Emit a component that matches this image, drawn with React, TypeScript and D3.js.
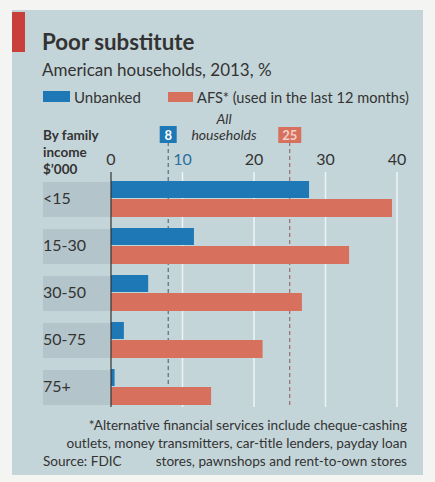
import React from "react";
import * as d3 from "d3";

const categories = ["<15", "15-30", "30-50", "50-75", "75+"];
const unbanked = [27.7, 11.6, 5.2, 1.8, 0.5];
const afs = [39.3, 33.3, 26.7, 21.2, 14.0];
const ticks = [0, 10, 20, 30, 40];
const allUnbanked = 8;
const allAfs = 25;
const footnote = [
  "*Alternative financial services include cheque-cashing",
  "outlets, money transmitters, car-title lenders, payday loan",
  "stores, pawnshops and rent-to-own stores",
];

const W = 435;
const H = 482;
const FONT = "Lato, 'Open Sans', sans-serif";
const BLUE = "#1f78b6";
const RED = "#d8705e";
const TEXT = "#333";
const PANEL = "#c4d5d9";
const BAND = "#b3c5ca";

export default function App() {
  const x = d3.scaleLinear().domain([0, 40]).range([111, 397]);
  const y = d3
    .scaleBand<string>()
    .domain(categories)
    .range([182, 405])
    .paddingInner(12 / 47)
    .paddingOuter(0);
  const bw = y.bandwidth();
  const gridTop = 172;
  const gridBottom = 407;

  return (
    <svg
      width={W}
      height={H}
      style={{ position: "absolute", left: 0, top: 0, background: "#f4f4f2" }}
      fontFamily={FONT}
    >
      <rect x={12} y={10} width={411} height={465} fill={PANEL} />
      <rect x={12} y={12} width={13} height={40} fill="#c9403a" />
      <text x={42} y={50} fontSize={22.3} fontWeight={700} fill={TEXT}>
        Poor substitute
      </text>
      <text x={42} y={76} fontSize={17} fill={TEXT}>
        American households, 2013, %
      </text>
      {/* legend */}
      <rect x={43} y={91} width={27} height={11} fill={BLUE} />
      <text x={74} y={103} fontSize={15} fill={TEXT}>
        Unbanked
      </text>
      <rect x={168} y={92} width={25} height={10} fill={RED} />
      <text x={197} y={103} fontSize={14.6} fill={TEXT}>
        AFS* (used in the last 12 months)
      </text>

      {/* row label header */}
      <text fontSize={13.5} fontWeight={700} fill={TEXT}>
        <tspan x={43} y={140}>By family</tspan>
        <tspan x={43} y={156.5}>income</tspan>
        <tspan x={43} y={174}>$’000</tspan>
      </text>

      {/* bands */}
      {categories.map((c) => (
        <rect key={c} x={43} y={y(c)!} width={x(0) - 43} height={bw} fill={BAND} />
      ))}

      {/* gridlines */}
      {ticks.slice(1).map((t) => (
        <line
          key={t}
          x1={x(t)}
          x2={x(t)}
          y1={gridTop}
          y2={gridBottom}
          stroke="#eef3f4"
          strokeWidth={1.5}
        />
      ))}
      {ticks.map((t) => (
        <text
          key={t}
          x={x(t)}
          y={165}
          fontSize={16}
          textAnchor="middle"
          fill={t === 10 ? "#2a6f9e" : TEXT}
        >
          {t}
        </text>
      ))}

      {/* all households markers */}
      <line
        x1={x(allUnbanked)}
        x2={x(allUnbanked)}
        y1={142}
        y2={gridBottom}
        stroke="#3a5a70"
        strokeWidth={1}
        strokeDasharray="4,3"
      />
      <line
        x1={x(allAfs)}
        x2={x(allAfs)}
        y1={142}
        y2={gridBottom}
        stroke="#8a5a5a"
        strokeWidth={1}
        strokeDasharray="4,3"
      />
      <rect x={x(allUnbanked) - 8.5} y={126} width={17} height={17} fill={BLUE} />
      <text
        x={x(allUnbanked)}
        y={140}
        fontSize={13}
        fontWeight={700}
        fill="#fff"
        textAnchor="middle"
      >
        {allUnbanked}
      </text>
      <rect x={x(allAfs) - 11.5} y={127} width={23} height={16} fill={RED} />
      <text
        x={x(allAfs)}
        y={140}
        fontSize={13}
        fontWeight={700}
        fill="#f3d0c8"
        textAnchor="middle"
      >
        {allAfs}
      </text>
      <text fontSize={14} fontStyle="italic" fill={TEXT} textAnchor="middle">
        <tspan x={224} y={124}>All</tspan>
        <tspan x={224} y={140}>households</tspan>
      </text>

      {/* bars */}
      {categories.map((c, i) => (
        <g key={c}>
          <rect
            x={x(0)}
            y={y(c)! - 1}
            width={x(unbanked[i]) - x(0)}
            height={17}
            fill={BLUE}
          />
          <rect
            x={x(0)}
            y={y(c)! + 17}
            width={x(afs[i]) - x(0)}
            height={18}
            fill={RED}
          />
          <text x={43} y={y(c)! + 22} fontSize={16} fill={TEXT}>
            {c}
          </text>
        </g>
      ))}

      {/* zero axis */}
      <line
        x1={x(0)}
        x2={x(0)}
        y1={gridTop}
        y2={gridBottom}
        stroke="#333"
        strokeWidth={1.2}
      />

      {/* footnote */}
      <text fontSize={13.6} fill={TEXT} textAnchor="end">
        {footnote.map((l, i) => (
          <tspan key={i} x={407} y={430 + i * 18}>
            {l}
          </tspan>
        ))}
      </text>
      <text x={43} y={466} fontSize={13.6} fill={TEXT}>
        Source: FDIC
      </text>
    </svg>
  );
}
